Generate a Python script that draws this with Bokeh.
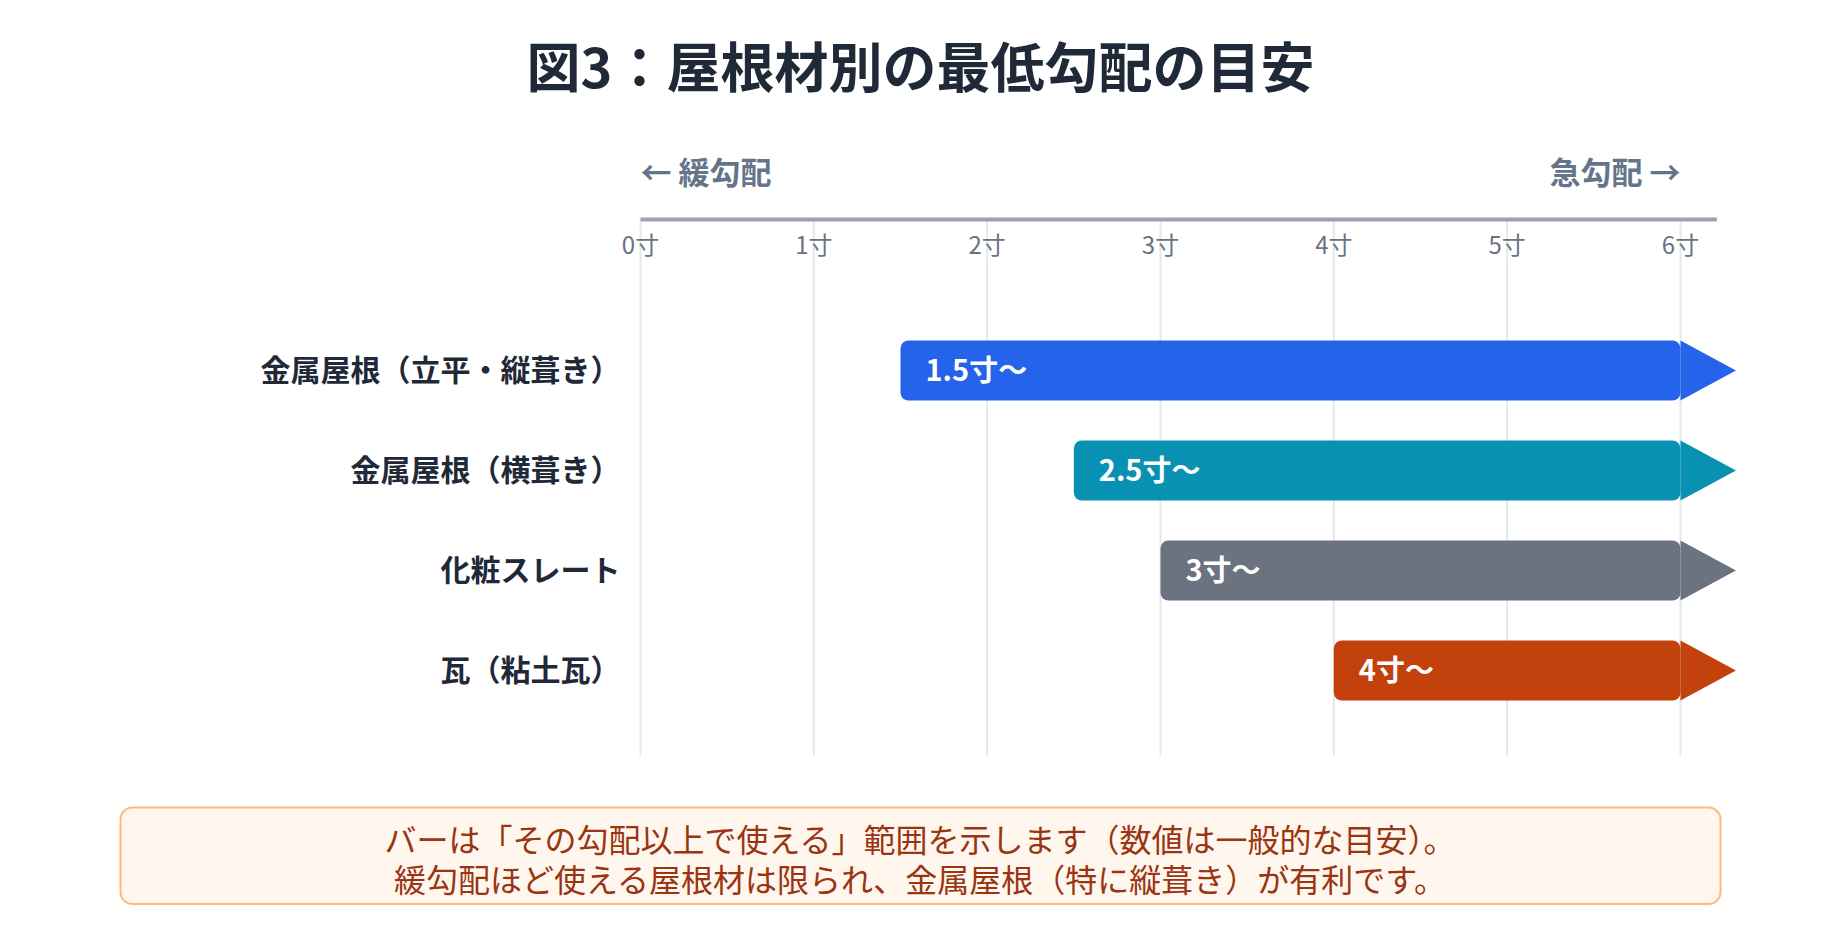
from bokeh.plotting import figure
from bokeh.models import Range1d
from bokeh.core.properties import value
from bokeh.embed import file_html
from bokeh.resources import INLINE

# ---- data ----
title_text = "図3：屋根材別の最低勾配の目安"
categories = ["金属屋根（立平・縦葺き）", "金属屋根（横葺き）", "化粧スレート", "瓦（粘土瓦）"]
min_pitch = [1.5, 2.5, 3, 4]
bar_labels = ["1.5寸〜", "2.5寸〜", "3寸〜", "4寸〜"]
bar_colors = ["#2563eb", "#0891b2", "#6b7280", "#c2410c"]
tick_values = [0, 1, 2, 3, 4, 5, 6]
tick_labels = ["0寸", "1寸", "2寸", "3寸", "4寸", "5寸", "6寸"]
axis_max = 6
left_label = "← 緩勾配"
right_label = "急勾配 →"
note_lines = ["バーは「その勾配以上で使える」範囲を示します（数値は一般的な目安）。",
              "緩勾配ほど使える屋根材は限られ、金属屋根（特に縦葺き）が有利です。"]

FONT = value("Noto Sans CJK JP")

# layout constants (data units: x in 寸, y in rows)
unit_px = 173.33
x0_px = 640
x_start = -x0_px / unit_px
x_end = (1840 - x0_px) / unit_px
rows = list(range(len(categories)))
bar_h = 0.6
arrow_len = 0.32
axis_line_y = -1.51
axis_line_end = 6.21
tick_label_y = -1.24
grid_bottom = 3.85
arrow_label_y = -1.975
title_y = -3.03
center_x = (920 - x0_px) / unit_px
YOFF = -3

p = figure(width=1840, height=940,
           x_range=Range1d(x_start, x_end), y_range=Range1d(5.7, -3.7),
           x_axis_location=None, y_axis_location=None,
           output_backend="svg", toolbar_location=None, min_border=0)
p.grid.visible = False
p.outline_line_color = None
p.background_fill_color = "white"
p.border_fill_color = "white"

# grid lines
p.segment(x0=tick_values, y0=[axis_line_y] * len(tick_values),
          x1=tick_values, y1=[grid_bottom] * len(tick_values),
          line_color="#e5e7eb", line_width=2)

# axis line
p.segment(x0=[tick_values[0]], y0=[axis_line_y], x1=[axis_line_end], y1=[axis_line_y],
          line_color="#9ca3af", line_width=4)

# tick labels
p.text(x=tick_values, y=[tick_label_y] * len(tick_values), text=tick_labels,
       y_offset=YOFF, text_font=FONT, text_font_size="24px", text_color="#6b7280",
       text_align="center", text_baseline="middle")

# direction labels
p.text(x=[tick_values[0]], y=[arrow_label_y], text=[left_label], y_offset=YOFF,
       text_font=FONT, text_font_size="31px", text_font_style="bold",
       text_color="#64748b", text_align="left", text_baseline="middle")
p.text(x=[tick_values[-1]], y=[arrow_label_y], text=[right_label], y_offset=YOFF,
       text_font=FONT, text_font_size="31px", text_font_style="bold",
       text_color="#64748b", text_align="right", text_baseline="middle")

# bars
p.hbar(y=rows, left=min_pitch, right=[axis_max] * len(rows), height=bar_h,
       fill_color=bar_colors, line_color=None, border_radius=8)

# arrow heads
xs = [[axis_max, axis_max + arrow_len, axis_max] for _ in rows]
ys = [[r - bar_h / 2, r, r + bar_h / 2] for r in rows]
p.patches(xs=xs, ys=ys, fill_color=bar_colors, line_color=None)

# bar labels
p.text(x=min_pitch, y=rows, text=bar_labels, x_offset=25, y_offset=YOFF,
       text_font=FONT, text_font_size="29px", text_font_style="bold",
       text_color="white", text_align="left", text_baseline="middle")

# category labels
p.text(x=[tick_values[0]] * len(rows), y=rows, text=categories, x_offset=-20, y_offset=YOFF,
       text_font=FONT, text_font_size="30px", text_font_style="bold",
       text_color="#1f2937", text_align="right", text_baseline="middle")

# title
p.text(x=[center_x], y=[title_y], text=[title_text], y_offset=YOFF,
       text_font=FONT, text_font_size="54px", text_font_style="bold",
       text_color="#1f2937", text_align="center", text_baseline="middle")

# note box
p.quad(left=[(120 - x0_px) / unit_px], right=[(1720 - x0_px) / unit_px],
       top=[4.37], bottom=[5.335], fill_color="#fff7ed",
       line_color="#fdba74", line_width=2, border_radius=12)
p.text(x=[center_x] * len(note_lines), y=[4.70, 5.10], text=note_lines, y_offset=YOFF,
       text_font=FONT, text_font_size="32px", text_color="#9a3412",
       text_align="center", text_baseline="middle")

open("out.html", "w").write(file_html(p, INLINE))
